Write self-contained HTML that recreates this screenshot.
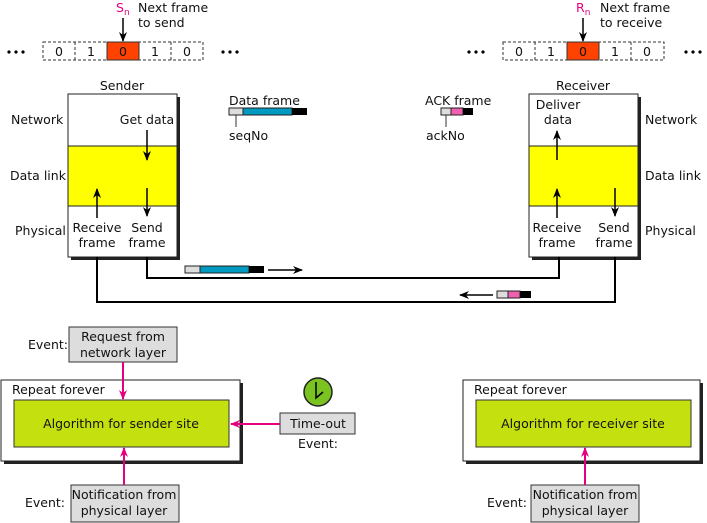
<!DOCTYPE html>
<html><head><meta charset="utf-8"><style>
html,body{margin:0;padding:0;background:#fff}
svg{display:block}
text{font-family:"DejaVu Sans","Liberation Sans",sans-serif;font-size:12.5px;fill:#111}
</style></head><body>
<svg width="707" height="523" viewBox="0 0 707 523" xmlns="http://www.w3.org/2000/svg">
<defs>
<marker id="ab" markerWidth="10" markerHeight="8" refX="9" refY="4" orient="auto" markerUnits="userSpaceOnUse"><path d="M0,0 L10,4 L0,8 L3,4 z" fill="#000"/></marker>
<marker id="ap" markerWidth="10" markerHeight="8" refX="9" refY="4" orient="auto" markerUnits="userSpaceOnUse"><path d="M0,0 L10,4 L0,8 L3,4 z" fill="#e6007e"/></marker>
</defs>
<!-- sender seq -->
<g fill="#000"><circle cx="9" cy="52" r="1.6"/><circle cx="16" cy="52" r="1.6"/><circle cx="23" cy="52" r="1.6"/>
<circle cx="223" cy="52" r="1.6"/><circle cx="230" cy="52" r="1.6"/><circle cx="237" cy="52" r="1.6"/>
<circle cx="469" cy="52" r="1.6"/><circle cx="476" cy="52" r="1.6"/><circle cx="483" cy="52" r="1.6"/>
<circle cx="686" cy="52" r="1.6"/><circle cx="693" cy="52" r="1.6"/><circle cx="700" cy="52" r="1.6"/></g>
<g fill="none" stroke="#333" stroke-dasharray="3,2" stroke-width="1">
<rect x="43" y="42" width="160" height="18"/><line x1="75" y1="42" x2="75" y2="60"/><line x1="171" y1="42" x2="171" y2="60"/>
<rect x="503" y="42" width="161" height="18"/><line x1="535" y1="42" x2="535" y2="60"/><line x1="631" y1="42" x2="631" y2="60"/>
</g>
<rect x="107" y="42" width="32" height="18" fill="#ff4200" stroke="#333"/>
<rect x="567" y="42" width="32" height="18" fill="#ff4200" stroke="#333"/>
<g text-anchor="middle"><text x="59" y="56">0</text><text x="91" y="56">1</text><text x="123" y="56">0</text><text x="155" y="56">1</text><text x="187" y="56">0</text>
<text x="519" y="56">0</text><text x="551" y="56">1</text><text x="583" y="56">0</text><text x="615" y="56">1</text><text x="647" y="56">0</text></g>
<text x="116" y="12" style="fill:#e6007e">S<tspan font-size="9" dy="3">n</tspan></text>
<text x="576" y="12" style="fill:#e6007e">R<tspan font-size="9" dy="3">n</tspan></text>
<line x1="123" y1="18" x2="123" y2="41" stroke="#000" stroke-width="1.5" marker-end="url(#ab)"/>
<line x1="583" y1="18" x2="583" y2="41" stroke="#000" stroke-width="1.5" marker-end="url(#ab)"/>
<text x="138" y="12">Next frame</text><text x="138" y="27">to send</text>
<text x="600" y="12">Next frame</text><text x="600" y="27">to receive</text>
<!-- stacks -->
<rect x="71" y="97" width="109" height="163" fill="#222"/>
<rect x="68" y="94" width="109" height="163" fill="#fff" stroke="#222"/>
<rect x="68" y="146" width="109" height="60" fill="#ffff00" stroke="#222"/>
<rect x="532" y="97" width="109" height="163" fill="#222"/>
<rect x="529" y="94" width="109" height="163" fill="#fff" stroke="#222"/>
<rect x="529" y="146" width="109" height="60" fill="#ffff00" stroke="#222"/>
<text x="122" y="90" text-anchor="middle">Sender</text>
<text x="583" y="90" text-anchor="middle">Receiver</text>
<text x="11" y="124">Network</text><text x="10" y="180">Data link</text><text x="15" y="235">Physical</text>
<text x="645" y="124">Network</text><text x="645" y="180">Data link</text><text x="645" y="235">Physical</text>
<g text-anchor="middle">
<text x="147" y="124">Get data</text>
<text x="97" y="232">Receive</text><text x="97" y="247">frame</text>
<text x="147" y="232">Send</text><text x="147" y="247">frame</text>
<text x="558" y="109">Deliver</text><text x="558" y="124">data</text>
<text x="557" y="232">Receive</text><text x="557" y="247">frame</text>
<text x="614" y="232">Send</text><text x="614" y="247">frame</text>
</g>
<g stroke="#000" stroke-width="1.5" fill="none">
<line x1="147" y1="130" x2="147" y2="160" marker-end="url(#ab)"/>
<line x1="147" y1="188" x2="147" y2="216" marker-end="url(#ab)"/>
<line x1="97" y1="218" x2="97" y2="189" marker-end="url(#ab)"/>
<line x1="557" y1="218" x2="557" y2="189" marker-end="url(#ab)"/>
<line x1="557" y1="160" x2="557" y2="131" marker-end="url(#ab)"/>
<line x1="615" y1="188" x2="615" y2="216" marker-end="url(#ab)"/>
<polyline points="147,257 147,278 559,278 559,257" stroke-width="2"/>
<polyline points="97,257 97,302 615,302 615,257" stroke-width="2"/>
<line x1="268" y1="270" x2="302" y2="270" marker-end="url(#ab)"/>
<line x1="493" y1="295" x2="460" y2="295" marker-end="url(#ab)"/>
</g>
<!-- frame icons -->
<rect x="229" y="108" width="14" height="7" fill="#ddd" stroke="#222"/><rect x="243" y="108" width="49" height="7" fill="#0099c0" stroke="#222"/><rect x="292" y="108" width="15" height="7" fill="#000"/>
<line x1="236" y1="115" x2="236" y2="127" stroke="#333"/>
<text x="229" y="105">Data frame</text><text x="229" y="140">seqNo</text>
<rect x="441" y="108" width="10" height="7" fill="#ddd" stroke="#222"/><rect x="451" y="108" width="12" height="7" fill="#f060b0" stroke="#222"/><rect x="463" y="108" width="10" height="7" fill="#000"/>
<line x1="446" y1="115" x2="446" y2="127" stroke="#333"/>
<text x="425" y="105">ACK frame</text><text x="426" y="140">ackNo</text>
<rect x="185" y="266" width="15" height="7" fill="#ddd" stroke="#222"/><rect x="200" y="266" width="49" height="7" fill="#0099c0" stroke="#222"/><rect x="249" y="266" width="15" height="7" fill="#000"/>
<rect x="497" y="291" width="11" height="7" fill="#ddd" stroke="#222"/><rect x="508" y="291" width="12" height="7" fill="#f060b0" stroke="#222"/><rect x="520" y="291" width="11" height="7" fill="#000"/>
<!-- bottom -->
<rect x="4" y="383" width="239" height="81" fill="#222"/>
<rect x="1" y="380" width="239" height="81" fill="#fff" stroke="#222"/>
<rect x="14" y="400" width="215" height="47" fill="#c4e10f" stroke="#333"/>
<text x="12" y="394">Repeat forever</text>
<text x="121" y="428" text-anchor="middle">Algorithm for sender site</text>
<rect x="466" y="383" width="237" height="81" fill="#222"/>
<rect x="463" y="380" width="237" height="81" fill="#fff" stroke="#222"/>
<rect x="476" y="400" width="215" height="47" fill="#c4e10f" stroke="#333"/>
<text x="474" y="394">Repeat forever</text>
<text x="583" y="428" text-anchor="middle">Algorithm for receiver site</text>
<rect x="69" y="327" width="108" height="35" fill="#ddd" stroke="#333"/>
<text x="123" y="341" text-anchor="middle">Request from</text><text x="123" y="357" text-anchor="middle">network layer</text>
<text x="28" y="349">Event:</text>
<rect x="71" y="485" width="108" height="37" fill="#ddd" stroke="#333"/>
<text x="124" y="499" text-anchor="middle">Notification from</text><text x="124" y="515" text-anchor="middle">physical layer</text>
<text x="25" y="507">Event:</text>
<rect x="531" y="485" width="108" height="37" fill="#ddd" stroke="#333"/>
<text x="585" y="499" text-anchor="middle">Notification from</text><text x="585" y="515" text-anchor="middle">physical layer</text>
<text x="487" y="507">Event:</text>
<rect x="280" y="413" width="75" height="21" fill="#ddd" stroke="#333"/>
<text x="318" y="428" text-anchor="middle">Time-out</text>
<text x="318" y="448" text-anchor="middle">Event:</text>
<circle cx="318" cy="392" r="14" fill="#7bc320" stroke="#222" stroke-width="1.5"/>
<polyline points="316,382 316,398 323,392" fill="none" stroke="#000" stroke-width="1.5"/>
<g stroke="#e6007e" stroke-width="2">
<line x1="123" y1="362" x2="123" y2="399" marker-end="url(#ap)"/>
<line x1="124" y1="485" x2="124" y2="448" marker-end="url(#ap)"/>
<line x1="585" y1="485" x2="585" y2="448" marker-end="url(#ap)"/>
<line x1="280" y1="424" x2="231" y2="424" marker-end="url(#ap)"/>
</g>
</svg>
</body></html>
